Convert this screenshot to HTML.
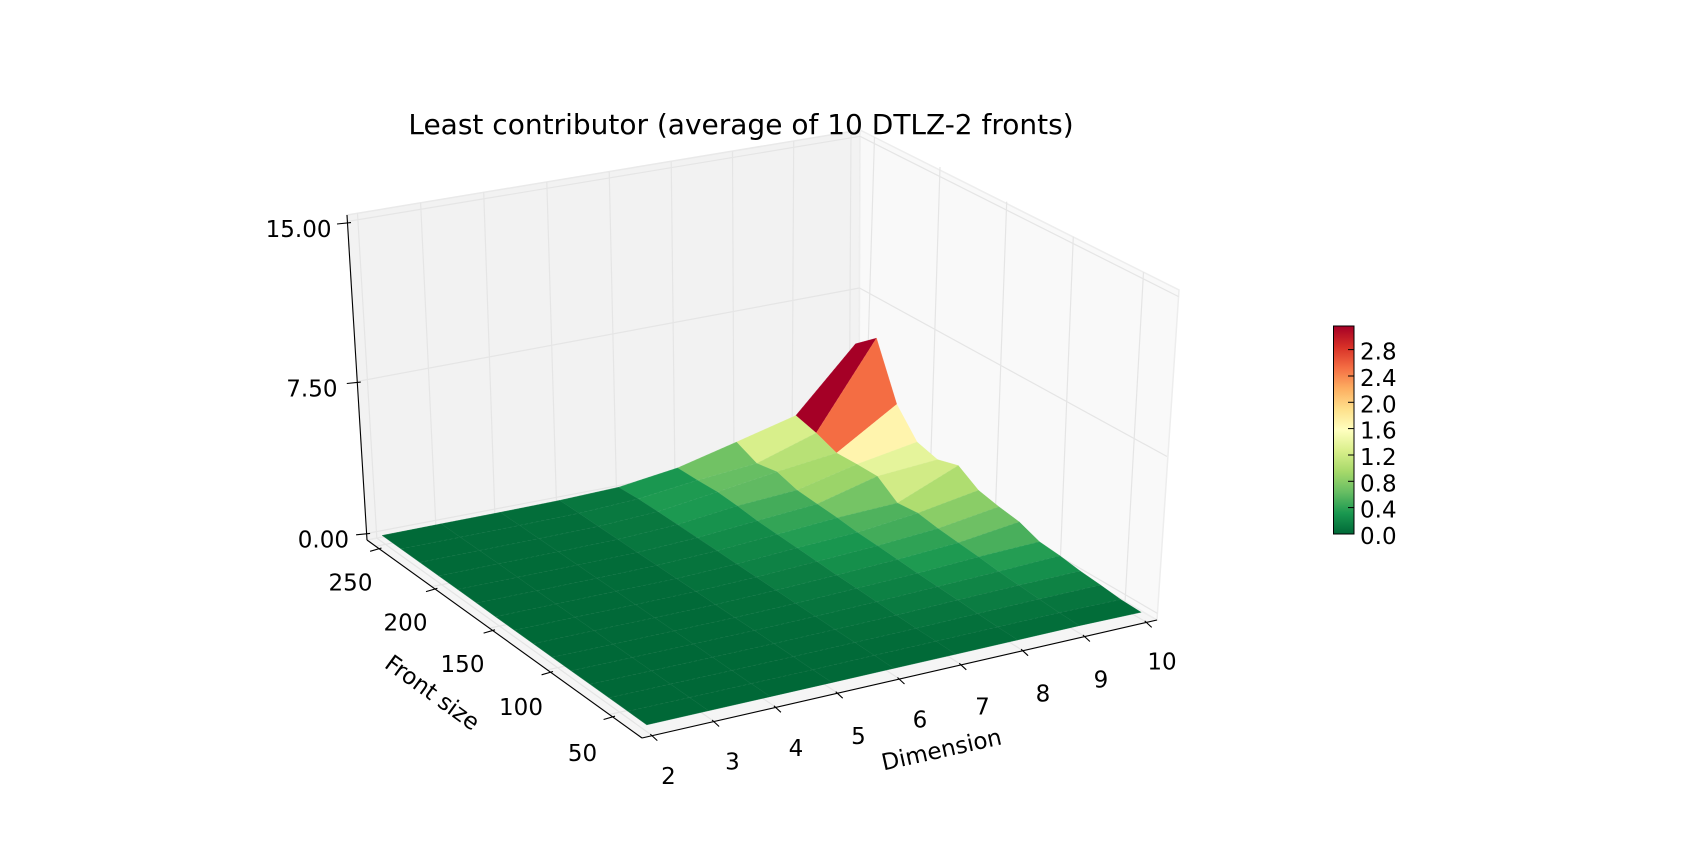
<!DOCTYPE html>
<html>
<head>
<meta charset="utf-8">
<style>
html,body{margin:0;padding:0;background:#fff;}
svg{display:block;}
text{font-family:"DejaVu Sans","Liberation Sans",sans-serif;fill:#000;}
.sd{stroke:rgba(255,255,255,0.07);stroke-width:0.8;fill:none;}
.sk{stroke:rgba(255,255,255,0.07);stroke-width:0.8;fill:none;stroke-dasharray:3 2.5;}
</style>
</head>
<body>
<svg id="s" width="1702" height="863" viewBox="0 0 1702 863" xmlns="http://www.w3.org/2000/svg">
<defs>
<linearGradient id="cb" x1="0" y1="1" x2="0" y2="0">
<stop offset="0" stop-color="#006837"/>
<stop offset="0.1" stop-color="#1a9850"/>
<stop offset="0.2" stop-color="#66bd63"/>
<stop offset="0.3" stop-color="#a6d96a"/>
<stop offset="0.4" stop-color="#d9ef8b"/>
<stop offset="0.5" stop-color="#ffffbf"/>
<stop offset="0.6" stop-color="#fee08b"/>
<stop offset="0.7" stop-color="#fdae61"/>
<stop offset="0.8" stop-color="#f46d43"/>
<stop offset="0.9" stop-color="#d73027"/>
<stop offset="1" stop-color="#a50026"/>
</linearGradient>
</defs>
<rect width="1702" height="863" fill="#fff"/>

<!-- panes -->
<polygon points="367,540 642,738 1157,620 859,446" fill="#f5f5f5" stroke="#ececec" stroke-width="1.5"/>
<polygon points="367,540 859,446 860,130 347,215" fill="#f2f2f2" stroke="#e9e9e9" stroke-width="1.5"/>
<polygon points="859,446 1157,620 1179,290 860,130" fill="#f9f9f9" stroke="#ededed" stroke-width="1.5"/>

<!-- gridlines -->
<g stroke="#e5e5e5" stroke-width="1.2" fill="none">
<line x1="357.5" y1="213.3" x2="376.8" y2="538.1"/>
<line x1="420.6" y1="202.8" x2="435.9" y2="526.8"/>
<line x1="483.7" y1="192.3" x2="494.9" y2="515.6"/>
<line x1="546.8" y1="181.9" x2="556.5" y2="504.3"/>
<line x1="609.2" y1="171.6" x2="616.5" y2="493"/>
<line x1="671.2" y1="161.3" x2="675" y2="481.7"/>
<line x1="732.5" y1="151.1" x2="734" y2="470.4"/>
<line x1="793.7" y1="141" x2="792" y2="459.2"/>
<line x1="851" y1="131.5" x2="849.2" y2="447.9"/>
<line x1="366.6" y1="533.5" x2="859" y2="439.7"/>
<line x1="357" y1="381.5" x2="859.5" y2="288"/>
<line x1="347.4" y1="221.5" x2="860" y2="136.3"/>
<line x1="874.5" y1="137" x2="865" y2="449.5"/>
<line x1="940" y1="167" x2="929.9" y2="487.4"/>
<line x1="1006.7" y1="201.7" x2="994.9" y2="525.3"/>
<line x1="1073.3" y1="236.7" x2="1060.2" y2="563.5"/>
<line x1="1143.5" y1="272.2" x2="1125.1" y2="601.4"/>
<line x1="859" y1="439.7" x2="1157.4" y2="613.4"/>
<line x1="859.5" y1="288" x2="1167" y2="456.5"/>
<line x1="860" y1="136.3" x2="1178.6" y2="296.6"/>
<line x1="652.3" y1="735.6" x2="376.8" y2="538.1"/>
<line x1="714.1" y1="721.5" x2="435.9" y2="526.8"/>
<line x1="775.9" y1="707.3" x2="494.9" y2="515.6"/>
<line x1="837.7" y1="693.2" x2="556.5" y2="504.3"/>
<line x1="899.5" y1="679" x2="616.5" y2="493"/>
<line x1="961.3" y1="664.8" x2="675" y2="481.7"/>
<line x1="1023.1" y1="650.7" x2="734" y2="470.4"/>
<line x1="1084.9" y1="636.5" x2="792" y2="459.2"/>
<line x1="1146.7" y1="622.4" x2="849.2" y2="447.9"/>
<line x1="375.8" y1="546.3" x2="865" y2="449.5"/>
<line x1="431.7" y1="586.6" x2="929.9" y2="487.4"/>
<line x1="489.3" y1="628.1" x2="994.9" y2="525.3"/>
<line x1="547.3" y1="669.8" x2="1060.2" y2="563.5"/>
<line x1="609.3" y1="714.5" x2="1125.1" y2="601.4"/>
</g>

<!-- surface (generated) -->
<g id="surf"></g>

<!-- axis lines and ticks -->
<g stroke="#000" stroke-width="1.1" fill="none">
<line x1="347" y1="215" x2="367" y2="540"/>
<line x1="367" y1="540" x2="642" y2="738"/>
<line x1="642" y1="738" x2="1157" y2="620"/>
<line x1="337" y1="224" x2="351" y2="222.6"/>
<line x1="346.8" y1="383.5" x2="360.8" y2="382.1"/>
<line x1="356.1" y1="534.8" x2="370.1" y2="533.4"/>
<line x1="370.1" y1="551.3" x2="381.5" y2="548"/>
<line x1="426" y1="591.6" x2="437.4" y2="588.3"/>
<line x1="483.6" y1="633.1" x2="495" y2="629.8"/>
<line x1="541.6" y1="674.8" x2="553" y2="671.5"/>
<line x1="603.6" y1="719.5" x2="615" y2="716.2"/>
<line x1="650.3" y1="734.1" x2="657.3" y2="740.6"/>
<line x1="712.1" y1="720" x2="719.1" y2="726.5"/>
<line x1="773.9" y1="705.8" x2="780.9" y2="712.3"/>
<line x1="835.7" y1="691.7" x2="842.7" y2="698.2"/>
<line x1="897.5" y1="677.5" x2="904.5" y2="684"/>
<line x1="959.3" y1="663.3" x2="966.3" y2="669.8"/>
<line x1="1021.1" y1="649.2" x2="1028.1" y2="655.7"/>
<line x1="1082.9" y1="635" x2="1089.9" y2="641.5"/>
<line x1="1144.7" y1="620.9" x2="1151.7" y2="627.4"/>
</g>

<text x="741" y="134" font-size="28" text-anchor="middle">Least contributor (average of 10 DTLZ-2 fronts)</text>

<g font-size="23" text-anchor="end">
<text x="331.5" y="237">15.00</text>
<text x="337.5" y="396.5">7.50</text>
<text x="349" y="547.5">0.00</text>
</g>

<g font-size="23" text-anchor="middle">
<text x="350.5" y="590.5">250</text>
<text x="405.5" y="630.5">200</text>
<text x="462.5" y="672">150</text>
<text x="521" y="715">100</text>
<text x="582.5" y="761">50</text>
</g>

<g font-size="23" text-anchor="middle">
<text x="668.5" y="784">2</text>
<text x="732.5" y="769.5">3</text>
<text x="796" y="756">4</text>
<text x="858.5" y="744">5</text>
<text x="920" y="727.5">6</text>
<text x="982.5" y="714.5">7</text>
<text x="1043" y="701.5">8</text>
<text x="1101" y="687.5">9</text>
<text x="1162" y="669.5">10</text>
</g>

<text font-size="23" text-anchor="middle" transform="translate(432.5,692.5) rotate(36)" y="8">Front size</text>
<text font-size="23" text-anchor="middle" transform="translate(941.5,749.5) rotate(-12.5)" y="8">Dimension</text>

<rect x="1333.5" y="326" width="20.5" height="208" fill="url(#cb)" stroke="#000" stroke-width="1"/>
<g stroke="#000" stroke-width="1">
<line x1="1348" y1="507.6" x2="1354" y2="507.6"/>
<line x1="1348" y1="481.3" x2="1354" y2="481.3"/>
<line x1="1348" y1="455" x2="1354" y2="455"/>
<line x1="1348" y1="428.6" x2="1354" y2="428.6"/>
<line x1="1348" y1="402.3" x2="1354" y2="402.3"/>
<line x1="1348" y1="376" x2="1354" y2="376"/>
<line x1="1348" y1="349.6" x2="1354" y2="349.6"/>
</g>
<g font-size="23">
<text x="1360" y="544">0.0</text>
<text x="1360" y="517.6">0.4</text>
<text x="1360" y="491.3">0.8</text>
<text x="1360" y="465">1.2</text>
<text x="1360" y="438.6">1.6</text>
<text x="1360" y="412.3">2.0</text>
<text x="1360" y="386">2.4</text>
<text x="1360" y="359.6">2.8</text>
</g>
</svg>

<script>
(function(){
var NS='http://www.w3.org/2000/svg';
var Fp=[642,738],Rp=[1157,620],Lp=[367,540],Bp=[859,446];
var Ft=[636,396],Rt=[1179,290],Lt=[347,215],Bt=[860,130];
function bil(a,b,c,e,u,v,j){return (1-u)*(1-v)*a[j]+u*(1-v)*b[j]+(1-u)*v*c[j]+u*v*e[j];}
function P(d,f,z){
  var u=(d-1.8333)/8.3333,v=(f-25.42)/229.17,w=(z+0.3125)/15.625;
  var px=bil(Fp,Rp,Lp,Bp,u,v,0),py=bil(Fp,Rp,Lp,Bp,u,v,1);
  var qx=bil(Ft,Rt,Lt,Bt,u,v,0),qy=bil(Ft,Rt,Lt,Bt,u,v,1);
  return [px+w*(qx-px),py+w*(qy-py),py];
}
var H=[
[0.01,0.01,0.01,0.01,0.01,0.01,0,0,0,0,0,0,0,0,0],
[0.02,0.02,0.02,0.02,0.01,0.01,0.01,0.01,0.01,0,0,0,0,0,0],
[0.03,0.03,0.03,0.03,0.02,0.02,0.02,0.01,0.01,0.01,0.01,0,0,0,0],
[0.06,0.06,0.05,0.05,0.04,0.04,0.03,0.03,0.02,0.02,0.02,0.01,0.01,0,0],
[0.15,0.2,0.2,0.19,0.17,0.15,0.13,0.11,0.09,0.07,0.06,0.04,0.03,0.02,0.01],
[0.54,0.55,0.59,0.52,0.4,0.35,0.3,0.25,0.2,0.16,0.12,0.08,0.05,0.03,0.01],
[1.26,0.81,1.0,0.71,0.63,0.56,0.45,0.4,0.33,0.26,0.21,0.16,0.1,0.05,0.02],
[2.01,1.74,1.35,1.39,1.39,0.68,0.78,0.62,0.52,0.42,0.3,0.22,0.14,0.07,0.03],
[5.0,5.85,3.17,1.90,1.62,1.91,1.28,1.06,0.90,0.52,0.42,0.26,0.16,0.04,0.0]
];
var stops=[[0,104,55],[26,152,80],[102,189,99],[166,217,106],[217,239,139],[255,255,191],[254,224,139],[253,174,97],[244,109,67],[215,48,39],[165,0,38]];
function cmap(t){
  t=Math.max(0,Math.min(1,t));var x=t*10;var i=Math.min(9,Math.floor(x));var r=x-i;
  var a=stops[i],b=stops[i+1];
  return 'rgb('+Math.round(a[0]+(b[0]-a[0])*r)+','+Math.round(a[1]+(b[1]-a[1])*r)+','+Math.round(a[2]+(b[2]-a[2])*r)+')';
}
var pts=[],i,k;
for(i=0;i<9;i++){pts[i]=[];for(k=0;k<15;k++){pts[i][k]=P(2+i,250-15.714*k,H[i][k]);}}
var cells=[],vmax=0;
for(i=0;i<8;i++){for(k=0;k<14;k++){
  var avg=(H[i][k]+H[i+1][k]+H[i+1][k+1]+H[i][k+1])/4;
  var depth=(pts[i][k][2]+pts[i+1][k][2]+pts[i+1][k+1][2]+pts[i][k+1][2])/4;
  cells.push({i:i,k:k,avg:avg,depth:depth});
  if(avg>vmax)vmax=avg;
}}
cells.sort(function(a,b){return a.depth-b.depth;});
var g=document.getElementById('surf');
function f(p){return p[0].toFixed(1)+','+p[1].toFixed(1);}
cells.forEach(function(c){
  var q=[pts[c.i][c.k],pts[c.i+1][c.k],pts[c.i+1][c.k+1],pts[c.i][c.k+1]];
  var t=c.avg/vmax;
  if(c.i===7&&c.k===1)t=0.8;
  var col=cmap(t);
  var p=document.createElementNS(NS,'path');
  p.setAttribute('d','M'+f(q[0])+'L'+f(q[1])+'L'+f(q[2])+'L'+f(q[3])+'Z');
  p.setAttribute('fill',col);
  p.setAttribute('stroke',col);
  p.setAttribute('stroke-width','0.3');
  g.appendChild(p);
  var s1=document.createElementNS(NS,'path');
  s1.setAttribute('d','M'+f(q[3])+'L'+f(q[0]));
  s1.setAttribute('class','sd');
  g.appendChild(s1);
  var s2=document.createElementNS(NS,'path');
  s2.setAttribute('d','M'+f(q[0])+'L'+f(q[1]));
  s2.setAttribute('class','sk');
  g.appendChild(s2);
});
})();
</script>
</body>
</html>
